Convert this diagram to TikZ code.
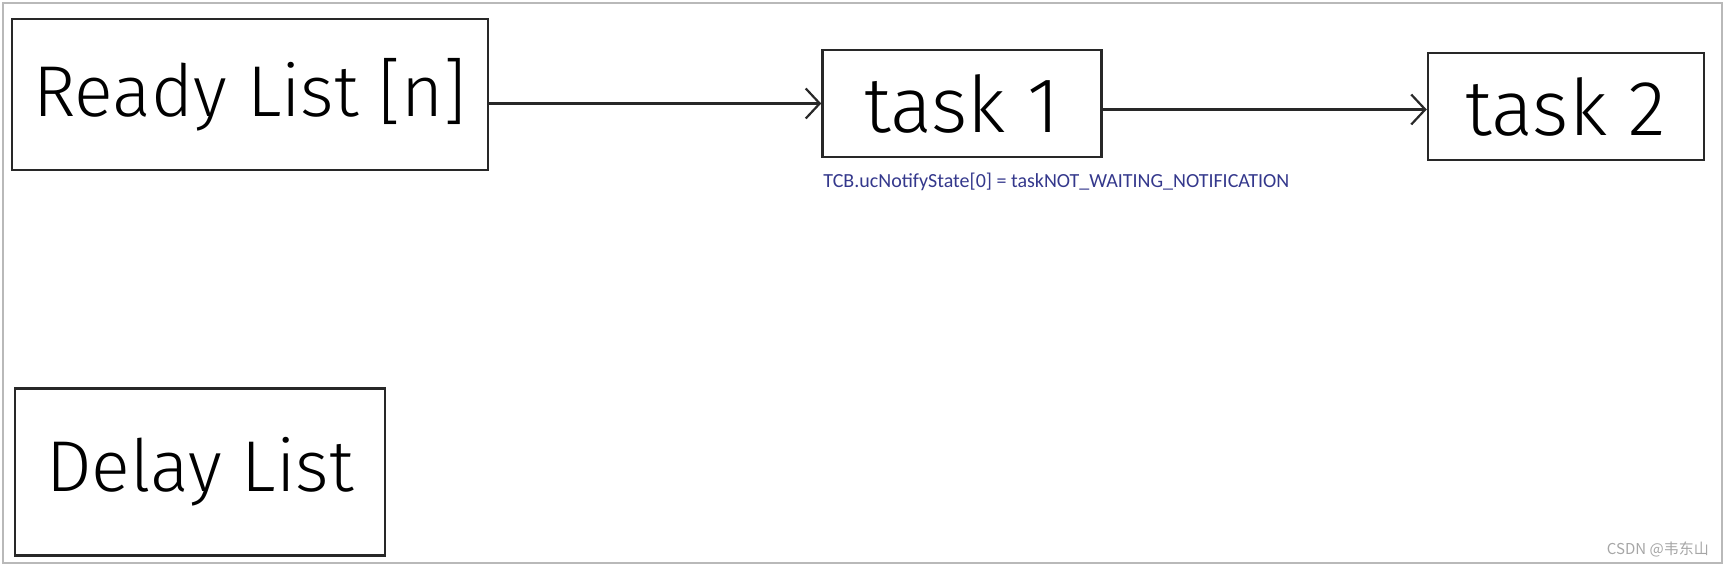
\documentclass[tikz,border=0pt]{standalone}
\usepackage{fontspec}
\usepackage{tikz}
\usetikzlibrary{positioning,arrows.meta}
\newfontfamily\handfont{Fira Sans Light}
\newfontfamily\notefont{Carlito}
\newfontfamily\cjkfont{Noto Sans CJK SC}
\definecolor{notecolor}{RGB}{52,56,140}
\definecolor{inkcolor}{RGB}{40,40,40}

\begin{document}
\begin{tikzpicture}[
    x=1pt, y=1pt,
    % bloques de las listas
    listbox/.style={rectangle, draw=inkcolor, line width=2.5pt, inner sep=0pt, font=\handfont\fontsize{72}{72}\selectfont},
    % bloques de las tareas
    taskbox/.style={listbox, minimum height=107pt, font=\handfont\fontsize{78}{78}\selectfont},
    link/.style={draw=inkcolor, line width=2.2pt, -{Straight Barb[length=14pt,width=30pt,line width=2.2pt]}},
    note/.style={text=notecolor, inner sep=0pt, font=\notefont\fontsize{20}{20}\selectfont}
]
    \useasboundingbox (0,0) rectangle (1725,568);
    \draw [gray!55, line width=1.5pt] (3,5) rectangle (1722,565);

    \node [listbox, minimum width=476pt, minimum height=151pt] (ready) at (250,473.5) {Ready List [n]};
    \node [taskbox, minimum width=279pt, right=332pt of ready, yshift=-9pt] (task1) {task 1};
    \node [taskbox, minimum width=276pt, right=324pt of task1, yshift=-3pt] (task2) {task 2};
    \node [listbox, minimum width=370pt, minimum height=167pt, below right=216pt and 3pt of ready.south west] (delay) {Delay List};
    \node [note, below right=15pt and 2pt of task1.south west] (state) {TCB.ucNotifyState[0] = taskNOT\_WAITING\_NOTIFICATION};
    \node [text=gray!70, inner sep=0pt, font=\cjkfont\fontsize{15}{15}\selectfont, anchor=south east] (mark) at (1709,11) {CSDN @韦东山};

    \path [link] (ready.east |- task1) -- (task1.west);
    \path [link] ([yshift=-6pt]task1.east) -- ([yshift=-6pt]task1.east -| task2.west);
\end{tikzpicture}
\end{document}
